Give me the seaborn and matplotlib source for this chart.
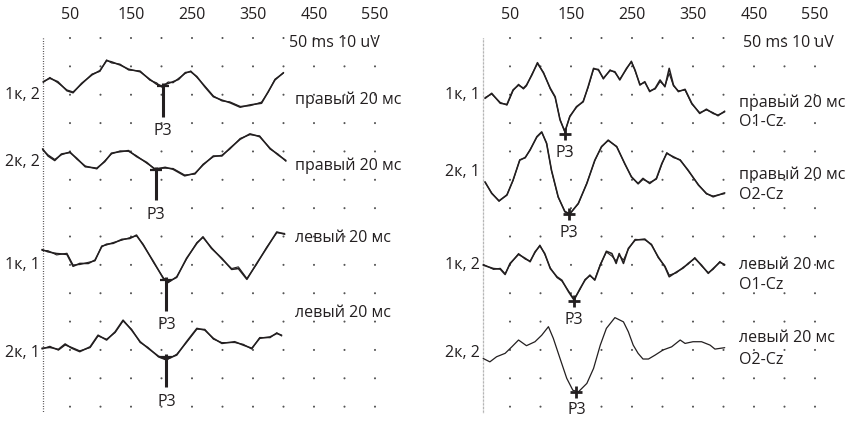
import matplotlib
matplotlib.use("Agg")
import matplotlib.pyplot as plt
import numpy as np
import pandas as pd
import seaborn as sns

sns.set_theme(style="white")
plt.rcParams["font.family"] = ["Open Sans", "DejaVu Sans"]

# ---------------- data (time in ms, amplitude in uV) ----------------
time_ticks = [50, 150, 250, 350, 450, 550]
scale_note = "50 ms 10 uV"

# left panel
left_rows = ["1к, 2", "2к, 2", "1к, 1", "2к, 1"]
left_conditions = ["правый 20 мс", "правый 20 мс", "левый 20 мс", "левый 20 мс"]

l1_t = [6, 17, 30, 45, 55, 69, 86, 99, 110, 118, 132, 146, 165, 181, 192, 200, 211, 219,
        228, 239, 248, 258, 271, 285, 299, 312, 329, 345, 364, 375, 386, 400]
l1_a = [4.7, 5.9, 4.7, 1.5, 0.8, 4.1, 7.1, 8.6, 12.1, 11.7, 10.6, 9.1, 8.2, 5.5, 3.8, 3.2, 4.1, 4.7,
        5.5, 7.9, 8.2, 6.5, 2.9, -0.6, -1.8, -2.7, -4.3, -3.5, -2.9, 1.2, 5.3, 7.9]
l1_b = [4.4, 6.2, 4.3, 1.8, 1.1, 3.8, 7.4, 8.3, 12.4, 11.3, 10.9, 8.8, 8.5, 5.2, 4.3, 2.8, 4.6, 4.3,
        5.9, 7.6, 8.5, 6.2, 3.2, -0.3, -2.1, -2.4, -4.0, -3.8, -2.5, 1.0, 5.6, 7.7]

l2_t = [5, 14, 25, 36, 50, 61, 75, 94, 107, 118, 132, 146, 159, 176, 189, 206, 219, 238, 255,
        268, 285, 299, 312, 329, 345, 361, 378, 391, 404]
l2_a = [4.6, 2.1, 0.5, 2.8, 3.3, 1.3, -1.7, -2.2, 0.1, 3.1, 3.6, 4.0, 1.9, -0.2, -2.6, -1.9, -2.6,
        -4.9, -4.0, -1.1, 2.1, 2.1, 4.8, 8.0, 9.9, 8.9, 4.8, 2.5, 0.5]
l2_b = [4.3, 2.5, 0.9, 2.5, 3.6, 1.0, -1.4, -2.5, 0.4, 2.8, 3.9, 3.7, 2.2, -0.5, -2.3, -2.2, -2.3,
        -4.6, -4.3, -0.8, 1.8, 2.4, 4.5, 8.3, 9.6, 9.2, 4.5, 2.8, 0.2]

l3_t = [4, 14, 28, 45, 55, 66, 80, 91, 102, 110, 121, 135, 148, 159, 170, 187, 203, 211, 225,
        241, 258, 268, 282, 299, 315, 326, 340, 356, 372, 389, 402]
l3_a = [5.5, 4.7, 4.1, 3.8, -0.4, 0.6, 0.6, 1.8, 6.5, 7.4, 7.7, 9.1, 9.4, 10.6, 7.1, 1.2, -4.7,
        -5.9, -4.3, 2.4, 7.7, 10.0, 5.9, 2.4, -1.5, -1.2, -5.0, 0.6, 5.9, 11.7, 10.9]
l3_b = [5.2, 5.1, 3.6, 4.2, 0.1, 0.2, 1.0, 1.5, 6.8, 7.1, 8.0, 8.8, 9.7, 10.3, 7.4, 0.9, -4.4,
        -6.2, -4.0, 2.1, 8.0, 9.7, 6.2, 2.1, -1.2, -0.6, -4.7, 0.3, 6.2, 11.4, 11.2]

l4_t = [4, 17, 31, 42, 53, 66, 83, 96, 110, 124, 137, 151, 165, 178, 195, 208, 225, 241, 258,
        271, 285, 299, 320, 334, 348, 361, 378, 389, 397]
l4_a = [1.7, 2.0, 1.3, 3.2, 1.7, 0.5, 2.2, 6.3, 4.6, 7.5, 11.6, 8.1, 4.0, 1.7, -1.1, -2.2, -0.7,
        4.0, 8.7, 8.1, 5.2, 3.4, 4.0, 2.8, 1.7, 5.2, 5.7, 6.9, 6.3]
l4_b = [1.4, 2.4, 1.0, 2.8, 2.0, 0.8, 1.9, 6.0, 4.9, 7.2, 11.3, 8.4, 3.7, 2.0, -1.4, -2.5, -0.4,
        3.7, 8.4, 8.4, 4.9, 3.7, 3.7, 3.1, 1.4, 5.5, 5.4, 7.2, 6.0]

left_p3_t = [202, 191, 208, 208]
left_p3_a = [3.2, -2.8, -5.3, -1.3]

# right panel
right_rows = ["1к, 1", "2к, 1", "1к, 2", "2к, 2"]
right_conditions = ["правый 20 мс", "правый 20 мс", "левый 20 мс", "левый 20 мс"]
right_leads = ["O1-Cz", "O2-Cz", "O1-Cz", "O2-Cz"]

r1_t = [9, 20, 34, 45, 55, 64, 72, 77, 86, 95, 105, 116, 124, 132, 140, 148, 159, 170, 178, 187,
        195, 203, 214, 222, 230, 241, 249, 255, 263, 271, 279, 288, 296, 304, 311, 318, 326, 337,
        348, 361, 372, 383, 391, 402]
r1_a = [-1.2, 0.6, -2.9, -3.3, 1.8, 3.5, 2.4, 3.5, 7.1, 11.4, 7.7, 2.4, -0.6, -8.8, -12.9, -7.7,
        -4.1, -2.4, 2.9, 9.4, 8.8, 5.9, 8.6, 8.2, 5.3, 9.4, 11.7, 8.8, 3.5, 4.7, 1.2, 2.4, 5.3,
        2.9, 9.4, 3.5, 1.2, 2.0, -2.9, -6.5, -5.0, -6.5, -7.1, -5.9]
r1_b = [-0.9, 0.3, -2.6, -3.6, 1.5, 3.8, 2.1, 3.2, 7.4, 11.0, 8.0, 2.1, -0.9, -8.5, -13.2, -7.4,
        -4.4, -2.1, 2.6, 9.1, 9.1, 5.6, 8.9, 7.9, 5.6, 9.1, 12.0, 8.5, 3.8, 4.4, 1.5, 2.1, 4.7,
        3.2, 7.6, 3.2, 1.5, 1.7, -3.2, -6.2, -5.3, -6.2, -7.4, -5.6]

r2_t = [9, 20, 32, 45, 55, 66, 75, 83, 94, 102, 110, 118, 129, 140, 148, 162, 176, 189, 200,
        211, 225, 238, 249, 260, 268, 279, 290, 299, 307, 318, 329, 342, 359, 372, 383, 402]
r2_a = [-3.4, -7.5, -10.1, -8.1, -2.8, 4.2, 5.2, 7.8, 12.5, 14.2, 10.1, 0.7, -8.7, -14.0, -14.8,
        -11.0, -4.0, 4.2, 8.9, 11.3, 8.9, 3.1, -1.7, -4.0, -2.2, -4.0, -2.2, 3.1, 6.6, 5.4, 4.2,
        0.7, -4.6, -7.5, -8.7, -7.3]
r2_b = [-3.6, -7.3, -10.3, -7.9, -3.0, 4.4, 5.0, 8.0, 12.3, 14.0, 10.3, 0.5, -8.9, -13.8, -14.6,
        -11.2, -3.8, 4.0, 9.1, 11.1, 9.1, 2.9, -1.5, -4.2, -2.6, -3.6, -2.5, 2.8, 6.9, 5.1, 4.4,
        0.5, -4.4, -7.7, -8.4, -7.6]

r3_t = [6, 23, 34, 42, 50, 64, 75, 83, 91, 99, 107, 116, 127, 135, 146, 155, 165, 173, 181, 189,
        198, 208, 217, 224, 229, 236, 244, 255, 271, 282, 293, 304, 311, 323, 334, 342, 353, 364,
        375, 383, 394, 402]
r3_a = [0.0, -1.2, -1.4, -3.3, 0.6, 3.8, 2.4, 1.2, 4.7, 6.8, 4.1, -1.2, -4.1, -5.3, -9.4, -12.3,
        -8.2, -5.3, -3.5, -5.3, 0.0, 4.9, 4.1, 0.6, 4.1, 0.6, 5.9, 8.8, 9.2, 7.1, 2.9, -0.6, -4.1,
        -2.4, -1.0, 0.6, 2.4, 0.0, -2.9, -1.2, 1.0, 0.2]
r3_b = [0.3, -1.5, -1.1, -3.0, 0.3, 4.1, 2.1, 1.5, 4.4, 7.1, 3.8, -0.9, -4.4, -5.6, -9.1, -12.0,
        -8.5, -5.0, -3.8, -5.0, 0.3, 4.6, 3.2, 1.5, 3.5, 1.8, 5.6, 9.1, 8.9, 7.4, 2.6, -0.3, -3.5,
        -2.7, -0.7, 0.3, 2.7, -0.3, -2.6, -1.5, 1.3, -0.1]

r4_t = [6, 17, 28, 42, 53, 64, 77, 91, 102, 113, 121, 132, 143, 153, 162, 176, 187, 198, 208,
        222, 236, 244, 252, 260, 268, 277, 288, 301, 315, 329, 337, 350, 364, 378, 386, 402]
r4_a = [-1.9, -3.1, -1.3, -0.1, 2.2, 4.6, 2.6, 4.0, 6.3, 9.3, 5.2, -1.9, -8.9, -13.1, -13.7,
        -10.7, -5.4, 2.8, 8.7, 12.5, 11.0, 7.5, 2.8, -0.1, -2.1, -2.1, -0.7, 1.1, 2.2, 4.6, 3.4,
        4.0, 4.0, 2.8, 1.4, 1.9]

right_p3_t = [140, 147, 155, 159]
right_p3_a = [-13.8, -14.8, -12.8, -13.7]

# ---------------- layout ----------------
W, H = 855, 422
fig = plt.figure(figsize=(W / 100, H / 100), dpi=100)
fig.patch.set_facecolor("white")

XLIM = (-2.46, 574.6)
YLIM = (-134.0, 6.35)
left_offsets = [-20.1, -43.7, -80.1, -111.1]
right_offsets = [-20.1, -47.3, -80.1, -111.1]
INK = "#231f20"
FS = 11.5


def make_axes(x0, y0, x1, y1):
    ax = fig.add_axes([x0 / W, 1 - y1 / H, (x1 - x0) / W, (y1 - y0) / H])
    ax.set_xlim(*XLIM)
    ax.set_ylim(*YLIM)
    for s in ax.spines.values():
        s.set_visible(False)
    ax.set_facecolor("none")
    # dotted reference grid: 50 ms x 10 uV
    gx, gy = np.meshgrid(np.arange(50, 551, 50), np.arange(0, -131, -10))
    sns.scatterplot(x=gx.ravel(), y=gy.ravel(), ax=ax, s=2.2, color="#555555",
                    edgecolor="none", linewidth=0, legend=False)
    return ax


def finish_axes(ax):
    ax.set_xlim(*XLIM)
    ax.set_ylim(*YLIM)
    ax.set_yticks([])
    ax.xaxis.tick_top()
    ax.set_xticks(time_ticks)
    ax.set_xticklabels([str(v) for v in time_ticks], fontsize=FS, color=INK)
    ax.tick_params(axis="x", length=0, pad=-2)
    ax.set_xlabel("")
    ax.set_ylabel("")


def draw_trace(ax, t, a, offset, lw=1.15):
    df = pd.DataFrame({"t": t, "v": np.asarray(a) + offset})
    sns.lineplot(data=df, x="t", y="v", ax=ax, color=INK, lw=lw, estimator=None,
                 sort=False, legend=False)


# left panel
axL = make_axes(38, 20, 390, 418)
axL.plot([5.7, 5.7], [0, -132.3], ls=(0, (0.6, 1.4)), color=INK, lw=0.9)
left_data = [(l1_t, l1_a, l1_b), (l2_t, l2_a, l2_b), (l3_t, l3_a, l3_b), (l4_t, l4_a, l4_b)]
left_cond_y = [-21.9, -45.2, -70.5, -97.0]
for i, (t, a, b) in enumerate(left_data):
    off = left_offsets[i]
    draw_trace(axL, t, a, off)
    draw_trace(axL, t, b, off, lw=0.8)
    axL.text(0.8, off, left_rows[i], ha="right", va="center", fontsize=FS, color=INK)
    axL.text(418.9, left_cond_y[i], left_conditions[i], ha="left", va="center",
             fontsize=FS, color=INK)
    pt, pa = left_p3_t[i], left_p3_a[i] + off
    axL.plot([pt, pt], [pa + 1.0, pa - 10.8], color=INK, lw=2.2, solid_capstyle="butt")
    axL.plot([pt - 10, pt + 10], [pa, pa], color=INK, lw=1.6, solid_capstyle="butt")
    axL.text(pt, pa - 15.9, "P3", ha="center", va="center", fontsize=FS, color=INK)
axL.text(409, -1.8, scale_note, ha="left", va="center", fontsize=FS, color=INK)
finish_axes(axL)

# right panel
axR = make_axes(478, 20, 830, 418)
axR.plot([5.7, 5.7], [0, -132.3], ls=(0, (0.5, 0.6)), color="#8a8a8a", lw=0.9)
right_data = [(r1_t, r1_a, r1_b), (r2_t, r2_a, r2_b), (r3_t, r3_a, r3_b), (r4_t, r4_a, None)]
right_cond_y = [(-22.9, -29.6), (-48.3, -55.4), (-80.1, -87.1), (-105.8, -113.6)]
for i, (t, a, b) in enumerate(right_data):
    off = right_offsets[i]
    if b is None:
        draw_trace(axR, t, a, off, lw=0.9)
    else:
        draw_trace(axR, t, a, off)
        draw_trace(axR, t, b, off, lw=0.8)
    axR.text(0.8, off, right_rows[i], ha="right", va="center", fontsize=FS, color=INK)
    y1, y2 = right_cond_y[i]
    axR.text(425.4, y1, right_conditions[i], ha="left", va="center", fontsize=FS, color=INK)
    axR.text(425.4, y2, right_leads[i], ha="left", va="center", fontsize=FS, color=INK)
    pt, pa = right_p3_t[i], right_p3_a[i] + off
    axR.plot([pt], [pa], marker="+", markersize=9, mew=2.0, color=INK)
    axR.text(pt, pa - 6.5, "P3", ha="center", va="center", fontsize=FS, color=INK)
axR.text(432, -1.8, scale_note, ha="left", va="center", fontsize=FS, color=INK)
finish_axes(axR)

fig.savefig("out.png", dpi=100, facecolor="white")
